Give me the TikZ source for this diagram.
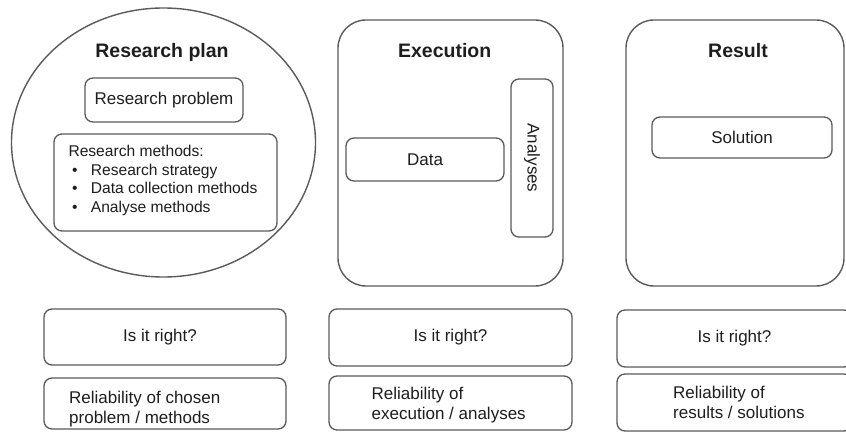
\documentclass[tikz,border=0pt]{standalone}
\usepackage{fontspec}
\setmainfont{Liberation Sans}
\usetikzlibrary{shapes.geometric}
\definecolor{edge}{HTML}{5A5A5A}
\definecolor{ink}{HTML}{1E1E1E}
\tikzset{
  frame/.style={draw=edge, line width=1.4pt, rounded corners=28pt, inner sep=0pt},
  box/.style={draw=edge, fill=white, line width=1.3pt, rounded corners=8pt, inner sep=0pt, text=ink,
    font=\fontsize{17}{20}\selectfont},
  title/.style={inner sep=0pt, anchor=base, text=ink, font=\fontsize{19.5}{22}\bfseries},
  para/.style={inner sep=0pt, anchor=north west, align=left, text=ink,
    font=\fontsize{17}{20}\selectfont},
  listtext/.style={inner sep=0pt, anchor=north west, align=left, text=ink,
    font=\fontsize{15.6}{18.6}\selectfont}
}
\newcommand{\bul}{\makebox[22.4pt][l]{\hspace{3.5pt}•}}
\begin{document}
\begin{tikzpicture}[x=1pt,y=-1pt]
\useasboundingbox (0,0) rectangle (846,435);

% Research plan
\node[ellipse, draw=edge, line width=1.4pt, minimum width=304pt, minimum height=269pt, inner sep=0pt]
  (plan) at (163.5,142.5) {};
\node[title] (plantitle) at (162,58) {Research plan};
\node[box, minimum width=158pt, minimum height=44pt] (problem) at (164,100) {Research problem};
\node[box, minimum width=223pt, minimum height=97pt] (methods) at (165.5,182.5) {};
\node[listtext] (methodlist) at (68.3,145) {Research methods:\\
  \bul Research strategy\\
  \bul Data collection methods\\
  \bul Analyse methods};

% Execution
\node[frame, minimum width=225pt, minimum height=266pt] (exec) at (450.5,153) {};
\node[title] (exectitle) at (444.7,58) {Execution};
\node[box, minimum width=158pt, minimum height=43pt] (data) at (425,159.5) {Data};
\node[box, rotate=-90, minimum width=158pt, minimum height=42pt] (analyses) at (532,158) {Analyses};

% Result
\node[frame, minimum width=218pt, minimum height=266pt] (result) at (735,153) {};
\node[title] (resulttitle) at (738,58) {Result};
\node[box, minimum width=180pt, minimum height=41pt] (solution) at (742,137.5) {Solution};

% Checks below each column
\node[box, minimum width=242pt, minimum height=56pt] (checkA) at (165,337) {};
\node[inner sep=0pt, text=ink, font=\fontsize{17}{20}\selectfont] (checkAtext) at (160,337) {Is it right?};
\node[box, minimum width=242pt, minimum height=51pt] (relA) at (165,403.5) {};
\node[para] (relAtext) at (69,391) {Reliability of chosen\\problem / methods};

\node[box, minimum width=243pt, minimum height=57pt] (checkB) at (450.5,337.5) {Is it right?};
\node[box, minimum width=243pt, minimum height=54pt] (relB) at (450.5,403) {};
\node[para] (relBtext) at (371.5,387) {Reliability of\\execution / analyses};

\node[box, minimum width=235pt, minimum height=57pt] (checkC) at (734.5,338.5) {Is it right?};
\node[box, minimum width=235pt, minimum height=57pt] (relC) at (734.5,402.5) {};
\node[para] (relCtext) at (673,386) {Reliability of\\results / solutions};
\end{tikzpicture}
\end{document}
